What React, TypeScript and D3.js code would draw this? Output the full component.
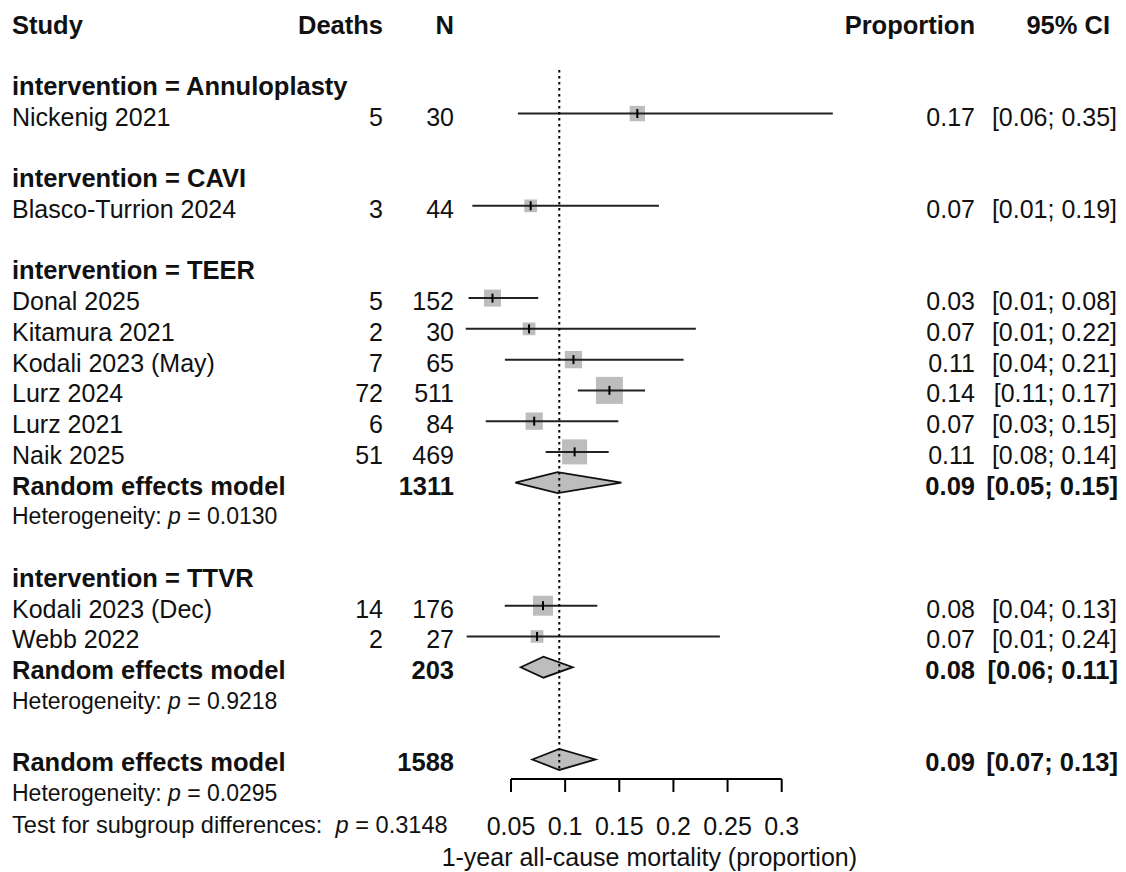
import React from 'react';
import * as d3 from 'd3';

const groups = ["Annuloplasty", "CAVI", "TEER", "TTVR"];
const studyNames = [
  "Nickenig 2021", "Blasco-Turrion 2024", "Donal 2025", "Kitamura 2021",
  "Kodali 2023 (May)", "Lurz 2024", "Lurz 2021", "Naik 2025",
  "Kodali 2023 (Dec)", "Webb 2022",
];
const studyGroup = ["Annuloplasty", "CAVI", "TEER", "TEER", "TEER", "TEER", "TEER", "TEER", "TTVR", "TTVR"];
const deaths = [5, 3, 5, 2, 7, 72, 6, 51, 14, 2];
const totals = [30, 44, 152, 30, 65, 511, 84, 469, 176, 27];
const ciLower = [0.0564, 0.0143, 0.0108, 0.0082, 0.0444, 0.1117, 0.0267, 0.082, 0.0442, 0.0091];
const ciUpper = [0.3472, 0.1866, 0.0751, 0.2207, 0.2094, 0.1738, 0.1491, 0.1402, 0.1297, 0.2429];
const weights = [7.0, 4.8, 8.6, 4.8, 8.9, 21.7, 8.9, 18.6, 11.9, 4.8];

const pooledGroups = ["TEER", "TTVR"];
const pooledEst = [0.093, 0.08];
const pooledLower = [0.054, 0.059];
const pooledUpper = [0.152, 0.107];
const pooledN = [1311, 203];
const pooledHetP = ["0.0130", "0.9218"];

const overallEst = 0.0946;
const overallLower = 0.0697;
const overallUpper = 0.128;
const overallN = 1588;
const overallHetP = "0.0295";
const subgroupP = "0.3148";

const xTicks = [0.05, 0.1, 0.15, 0.2, 0.25, 0.3];
const xTitle = "1-year all-cause mortality (proportion)";

const FONT = "'Liberation Sans', Arial, Helvetica, sans-serif";
const FS = 25;
const FS_BOLD = 25.5;
const FS_SMALL = 23;
const FS_TEST = 23.6;
const fmt = d3.format(".2f");

type Row =
  | { kind: 'header'; label: string }
  | { kind: 'study'; i: number }
  | { kind: 'pooled'; est: number; lo: number; hi: number; n: number }
  | { kind: 'het'; p: string }
  | { kind: 'test'; p: string }
  | { kind: 'blank' };

function buildRows(): Row[] {
  const rows: Row[] = [];
  groups.forEach((g) => {
    rows.push({ kind: 'header', label: `intervention = ${g}` });
    studyNames.forEach((_, i) => {
      if (studyGroup[i] === g) rows.push({ kind: 'study', i });
    });
    const pi = pooledGroups.indexOf(g);
    if (pi >= 0) {
      rows.push({ kind: 'pooled', est: pooledEst[pi], lo: pooledLower[pi], hi: pooledUpper[pi], n: pooledN[pi] });
      rows.push({ kind: 'het', p: pooledHetP[pi] });
    }
    rows.push({ kind: 'blank' });
  });
  rows.push({ kind: 'pooled', est: overallEst, lo: overallLower, hi: overallUpper, n: overallN });
  rows.push({ kind: 'het', p: overallHetP });
  rows.push({ kind: 'test', p: subgroupP });
  return rows;
}

export default function App() {
  const rows = buildRows();
  const x = d3.scaleLinear().domain([0.05, 0.3]).range([511, 781.7]);
  const y = d3.scaleLinear().domain([0, rows.length - 1]).range([82.8, 821]);
  const boxSize = d3.scaleSqrt().domain([0, d3.max(weights) as number]).range([0, 27]);

  const colStudy = 12;
  const colDeaths = 383;
  const colN = 454;
  const colProp = 975;
  const colCI = 1117;
  const textOff = 12;
  const diamondH = 10.5;
  const axisY = 779;
  const lastPooledIdx = rows.length - 3;

  const els: React.ReactNode[] = [];
  const marks: React.ReactNode[] = [];

  rows.forEach((r, idx) => {
    const yc = y(idx);
    const ty = yc + textOff;
    if (r.kind === 'header') {
      els.push(<text key={`h${idx}`} x={colStudy} y={ty} fontWeight="bold" fontSize={FS_BOLD}>{r.label}</text>);
    } else if (r.kind === 'study') {
      const i = r.i;
      const p = deaths[i] / totals[i];
      const s = boxSize(weights[i]);
      els.push(
        <g key={`s${idx}`}>
          <text x={colStudy} y={ty}>{studyNames[i]}</text>
          <text x={colDeaths} y={ty} textAnchor="end">{deaths[i]}</text>
          <text x={colN} y={ty} textAnchor="end">{totals[i]}</text>
          <text x={colProp} y={ty} textAnchor="end">{fmt(p)}</text>
          <text x={colCI} y={ty} textAnchor="end">{`[${fmt(ciLower[i])}; ${fmt(ciUpper[i])}]`}</text>
        </g>
      );
      marks.push(
        <g key={`m${idx}`}>
          <rect x={x(p) - s / 2} y={yc - s / 2} width={s} height={s} fill="#bdbdbd" />
          <line x1={x(ciLower[i])} x2={x(ciUpper[i])} y1={yc} y2={yc} stroke="#222" strokeWidth={2} />
          <line x1={x(p)} x2={x(p)} y1={yc - 4.5} y2={yc + 4.5} stroke="#000" strokeWidth={2} />
        </g>
      );
    } else if (r.kind === 'pooled') {
      els.push(
        <g key={`p${idx}`} fontWeight="bold" fontSize={FS_BOLD}>
          <text x={colStudy} y={ty}>Random effects model</text>
          <text x={colN} y={ty} textAnchor="end">{r.n}</text>
          <text x={colProp} y={ty} textAnchor="end">{fmt(r.est)}</text>
          <text x={colCI + 1} y={ty} textAnchor="end">{`[${fmt(r.lo)}; ${fmt(r.hi)}]`}</text>
        </g>
      );
      const pts = [
        [x(r.lo), yc], [x(r.est), yc - diamondH], [x(r.hi), yc], [x(r.est), yc + diamondH],
      ];
      marks.push(
        <polygon key={`d${idx}`} points={pts.map((q) => q.join(',')).join(' ')} fill="#bdbdbd" stroke="#111" strokeWidth={1.8} />
      );
    } else if (r.kind === 'het') {
      els.push(
        <text key={`het${idx}`} x={colStudy} y={ty - 1} fontSize={FS_SMALL}>
          Heterogeneity: <tspan fontStyle="italic">p</tspan> = {r.p}
        </text>
      );
    } else if (r.kind === 'test') {
      els.push(
        <text key={`t${idx}`} x={colStudy} y={ty} fontSize={FS_TEST} style={{ whiteSpace: 'pre' }}>
          {'Test for subgroup differences:  '}<tspan fontStyle="italic">p</tspan>{` = ${r.p}`}
        </text>
      );
    }
  });

  const refTop = 70;
  const refBottom = y(lastPooledIdx) + diamondH;

  return (
    <svg width={1126} height={872} style={{ position: 'absolute', left: 0, top: 0, background: '#fff' }}
      fontFamily={FONT} fontSize={FS} fill="#111">
      <rect x={0} y={0} width={1126} height={872} fill="#fff" />
      <g fontWeight="bold" fontSize={FS_BOLD}>
        <text x={colStudy} y={34}>Study</text>
        <text x={colDeaths} y={34} textAnchor="end">Deaths</text>
        <text x={colN} y={34} textAnchor="end">N</text>
        <text x={colProp} y={34} textAnchor="end">Proportion</text>
        <text x={colCI - 7} y={34} textAnchor="end">95% CI</text>
      </g>
      {marks}
      <line x1={x(overallEst)} x2={x(overallEst)} y1={refTop} y2={refBottom} stroke="#000" strokeWidth={2} strokeDasharray="2.5,3.5" />
      {els}
      <g>
        <line x1={x(xTicks[0])} x2={x(xTicks[xTicks.length - 1])} y1={axisY} y2={axisY} stroke="#000" strokeWidth={2} />
        {xTicks.map((t) => (
          <g key={t}>
            <line x1={x(t)} x2={x(t)} y1={axisY} y2={axisY + 13} stroke="#000" strokeWidth={2} />
            <text x={x(t)} y={835} textAnchor="middle">{String(t)}</text>
          </g>
        ))}
        <text x={(x(xTicks[0]) + x(xTicks[xTicks.length - 1])) / 2 + 3} y={866} textAnchor="middle">{xTitle}</text>
      </g>
    </svg>
  );
}
